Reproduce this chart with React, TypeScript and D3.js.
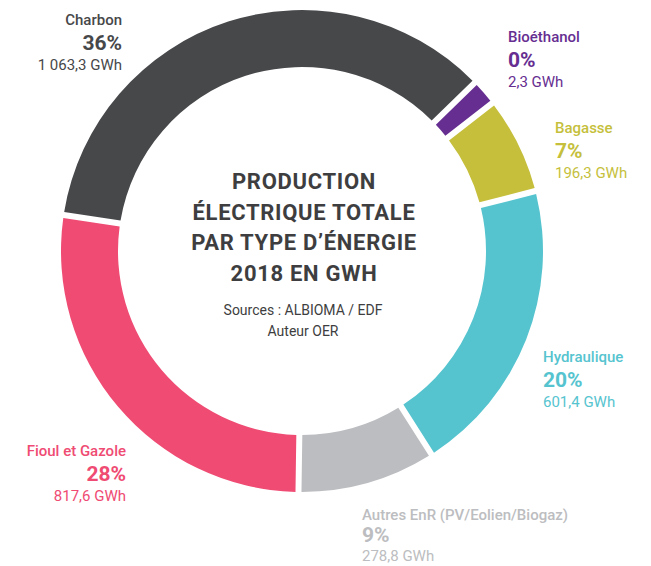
import React from "react";
import * as d3 from "d3";

const categories = [
  "Charbon",
  "Bioéthanol",
  "Bagasse",
  "Hydraulique",
  "Autres EnR (PV/Eolien/Biogaz)",
  "Fioul et Gazole",
];
const valuesGWh = [1063.3, 2.3, 196.3, 601.4, 278.8, 817.6];
const percentLabels = ["36%", "0%", "7%", "20%", "9%", "28%"];
const colors = ["#47484a", "#662e91", "#c5bf3c", "#56c4cf", "#bcbdc0", "#ef4b73"];
const textColors = ["#47484a", "#662e91", "#c5bf3c", "#56c4cf", "#bcbdc0", "#ef4b73"];
const titleLines = ["PRODUCTION", "ÉLECTRIQUE TOTALE", "PAR TYPE D\u2019ÉNERGIE", "2018 EN GWH"];
const sourceLines = ["Sources : ALBIOMA / EDF", "Auteur OER"];

// layout
const W = 651;
const H = 566;
const cx = 302;
const cy = 251;
const outerR = 241;
const innerR = 184;
const startDeg = -81.4;
const minShare = 0.018;
const labelPos = [
  { x: 122, y: 25, anchor: "end", d1: 25, d2: 45 },
  { x: 508, y: 42, anchor: "start", d1: 25, d2: 45 },
  { x: 555, y: 133, anchor: "start", d1: 25, d2: 45 },
  { x: 543, y: 362, anchor: "start", d1: 25, d2: 45 },
  { x: 362, y: 520, anchor: "start", d1: 22, d2: 41 },
  { x: 126, y: 456, anchor: "end", d1: 25, d2: 45 },
];

const locale = d3.formatLocale({
  decimal: ",",
  thousands: " ",
  grouping: [3],
  currency: ["", " €"],
});
const fmt = locale.format(",.1f");

const FONT = "Roboto, 'Noto Sans', sans-serif";

export default function App() {
  const total = d3.sum(valuesGWh);
  const rows = categories.map((c, i) => ({
    name: c,
    value: valuesGWh[i],
    weight: Math.max(valuesGWh[i], total * minShare),
    pct: percentLabels[i],
    color: colors[i],
    tcolor: textColors[i],
  }));
  const start = (startDeg * Math.PI) / 180;
  const pie = d3
    .pie<any>()
    .sort(null)
    .value((d: any) => d.weight)
    .startAngle(start)
    .endAngle(start + 2 * Math.PI);
  const arcs = pie(rows);
  const arc = d3
    .arc<any>()
    .innerRadius(innerR)
    .outerRadius(outerR)
    .padAngle(6 / outerR)
    .padRadius(outerR);

  return (
    <svg
      width={W}
      height={H}
      style={{ position: "absolute", left: 0, top: 0, display: "block", background: "#fff" }}
      fontFamily={FONT}
    >
      <g transform={`translate(${cx},${cy})`}>
        {arcs.map((a, i) => (
          <path key={i} d={arc(a) as string} fill={a.data.color} />
        ))}
      </g>
      {rows.map((r, i) => {
        const p = labelPos[i];
        return (
          <g key={i} fill={r.tcolor} textAnchor={p.anchor as any}>
            <text x={p.x} y={p.y} fontSize={15} fontWeight={500}>
              {r.name}
            </text>
            <text x={p.x} y={p.y + p.d1} fontSize={21} fontWeight={700}>
              {r.pct}
            </text>
            <text x={p.x} y={p.y + p.d2} fontSize={15}>
              {fmt(r.value) + " GWh"}
            </text>
          </g>
        );
      })}
      <g fill="#3e3e40" textAnchor="middle">
        {titleLines.map((t, i) => (
          <text
            key={i}
            x={cx + 2}
            y={189 + i * 30.5}
            fontSize={22}
            fontWeight={700}
            letterSpacing={0.7}
          >
            {t}
          </text>
        ))}
        {sourceLines.map((t, i) => (
          <text key={"s" + i} x={cx + 1} y={315 + i * 21} fontSize={14}>
            {t}
          </text>
        ))}
      </g>
    </svg>
  );
}
